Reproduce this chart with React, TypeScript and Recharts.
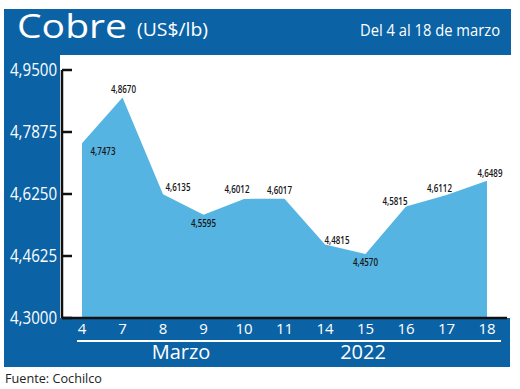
import { AreaChart, Area, XAxis, YAxis, LabelList } from "recharts";

const days = ["4", "7", "8", "9", "10", "11", "14", "15", "16", "17", "18"];
const prices = [4.7473, 4.867, 4.6135, 4.5595, 4.6012, 4.6017, 4.4815, 4.457, 4.5815, 4.6112, 4.6489];
const yTicks = [4.3, 4.4625, 4.625, 4.7875, 4.95];

// where each value label sits relative to its point
const labelDx = [21, 1, 15, 0, -7, -5, 12, 0, -11, -7, 3];
const labelDy = [8, -8, -7, 8, -10, -9, -5, 8, -5, -7, -8];

const BLUE = "#0b63a6";
const FILL = "#56b4e3";
const SANS = "'Open Sans', 'DejaVu Sans', sans-serif";

const fmt = (v: number) => v.toFixed(4).replace(".", ",");

const data = days.map((d, i) => ({ day: d, price: prices[i] }));

const YTick = ({ x, y, payload }: any) => (
  <g>
    <line x1={x} x2={x + 10} y1={y} y2={y} stroke="#111" strokeWidth={2.5} />
    <text
      x={x - 5}
      y={y}
      dy={6}
      textAnchor="end"
      fill="#fff"
      fontSize={18}
      fontFamily={SANS}
      textLength={47}
      lengthAdjust="spacingAndGlyphs"
    >
      {fmt(payload.value)}
    </text>
  </g>
);

const ValueLabel = ({ x, y, value, index }: any) => (
  <text
    x={x + labelDx[index]}
    y={y + labelDy[index]}
    dy={4}
    textAnchor="middle"
    fill="#151515"
    fontSize={11}
    fontWeight={600}
    fontFamily={SANS}
    textLength={25}
    lengthAdjust="spacingAndGlyphs"
  >
    {fmt(value)}
  </text>
);

export default function App() {
  return (
    <div style={{ position: "absolute", left: 0, top: 0, width: 520, height: 389, background: "#fff" }}>
      {/* blue frame */}
      <div style={{ position: "absolute", left: 4, top: 9, width: 507, height: 46, background: BLUE }} />
      <div style={{ position: "absolute", left: 4, top: 9, width: 56, height: 358, background: BLUE }} />
      <div style={{ position: "absolute", left: 4, top: 318, width: 506, height: 49, background: BLUE }} />
      <div style={{ position: "absolute", left: 77, top: 340, width: 424, height: 1.5, background: "#fff" }} />

      <svg width={520} height={389} style={{ position: "absolute", left: 0, top: 0 }}>
        <text x={17} y={38} fill="#fff" fontFamily={SANS} fontSize={33} textLength={110} lengthAdjust="spacingAndGlyphs">
          Cobre
        </text>
        <text x={137} y={36} fill="#fff" fontFamily={SANS} fontSize={18} textLength={71} lengthAdjust="spacingAndGlyphs">
          (US$/lb)
        </text>
        <text x={360} y={36} fill="#fff" fontFamily={SANS} fontSize={15.5} textLength={140} lengthAdjust="spacingAndGlyphs">
          Del 4 al 18 de marzo
        </text>
        <text x={181} y={359} textAnchor="middle" fill="#fff" fontFamily={SANS} fontSize={20}>
          Marzo
        </text>
        <text x={363} y={359} textAnchor="middle" fill="#fff" fontFamily={SANS} fontSize={20}>
          2022
        </text>
        <text x={5} y={383} fill="#222" fontFamily={SANS} fontSize={13.5} textLength={97} lengthAdjust="spacingAndGlyphs">
          Fuente: Cochilco
        </text>
      </svg>

      <div style={{ position: "absolute", left: 0, top: 0 }}>
        <AreaChart width={520} height={389} data={data} margin={{ top: 70, right: 13, bottom: 41, left: 0 }}>
          <XAxis
            dataKey="day"
            height={30}
            padding={{ left: 20, right: 20 }}
            axisLine={{ stroke: "#111", strokeWidth: 2.5 }}
            tickLine={false}
            tickSize={0}
            tickMargin={5}
            tick={{ fill: "#fff", fontSize: 15, fontFamily: SANS }}
          />
          <YAxis
            width={62}
            domain={[4.3, 4.95]}
            ticks={yTicks}
            axisLine={{ stroke: "#111", strokeWidth: 2.5 }}
            tickLine={false}
            tickSize={0}
            tickMargin={0}
            tick={<YTick />}
            interval={0}
          />
          {/* the printed area sits a few pixels above the tick grid */}
          <YAxis yAxisId="plot" hide domain={[4.289, 4.939]} />
          <Area
            dataKey="price"
            stroke="none"
            fill="none"
            isAnimationActive={false}
            dot={false}
            activeDot={false}
          />
          <Area
            yAxisId="plot"
            type="linear"
            dataKey="price"
            stroke="none"
            fill={FILL}
            fillOpacity={1}
            isAnimationActive={false}
            dot={false}
            activeDot={false}
          >
            <LabelList dataKey="price" content={<ValueLabel />} />
          </Area>
        </AreaChart>
      </div>
    </div>
  );
}
